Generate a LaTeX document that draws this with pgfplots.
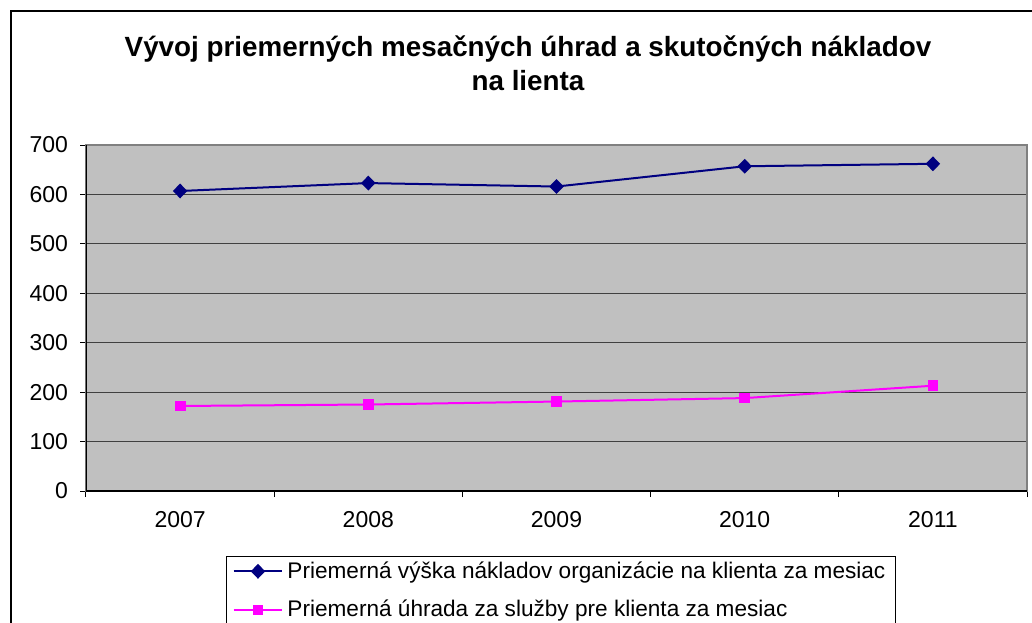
\documentclass[border=0pt]{standalone}
\usepackage{pgfplots}
\pgfplotsset{compat=1.18}
\usepackage{fontspec}
\setmainfont{Liberation Sans}
\definecolor{plotgray}{HTML}{C0C0C0}
\definecolor{navyline}{HTML}{000080}
\definecolor{magline}{HTML}{FF00FF}
\begin{document}
\begin{tikzpicture}
\begin{axis}[
  scale only axis, width=470.5pt, height=173pt,
  at={(0,0)}, anchor=south west,
  xmin=-0.5, xmax=4.5, ymin=0, ymax=700,
  xtick={0,1,2,3,4}, xticklabels={2007,2008,2009,2010,2011},
  minor xtick={-0.5,0.5,1.5,2.5,3.5,4.5},
  ytick={0,100,...,700},
  ymajorgrids,
  major grid style={black!75, line width=0.5pt},
  axis background/.style={fill=plotgray},
  axis line style={draw=black!50, line width=0.8pt},
  tick align=outside, tick pos=left,
  major tick length=3pt, minor tick length=3pt,
  every major x tick/.append style={draw=none},
  every tick/.append style={black, line width=0.5pt},
  /pgf/number format/assume math mode=true,
  ticklabel style={font=\fontsize{11.5}{13}\selectfont},
  xticklabel style={yshift=-3.5pt},
  yticklabel style={xshift=-2.5pt},
  legend style={at={(0.1488,-0.1879)}, anchor=north west, draw=black, line width=0.5pt,
    font=\fontsize{11.3}{13}\selectfont, row sep=5.5pt, inner xsep=3pt, inner ysep=0.5pt},
  legend cell align=left,
  legend image code/.code={\draw[mark repeat=2,mark phase=2] plot coordinates {(0cm,0cm) (0.43cm,0cm) (0.86cm,0cm)};},
]
\addplot[navyline, line width=1pt, mark=diamond*, mark size=3pt, mark options={xscale=1.3}] coordinates {
  (0,607) (1,623) (2,616) (3,657) (4,662)};
\addlegendentry{Priemerná výška nákladov organizácie na klienta za mesiac}
\addplot[magline, line width=1pt, mark=square*, mark size=2.2pt] coordinates {
  (0,172) (1,175) (2,181) (3,188) (4,213)};
\addlegendentry{Priemerná úhrada za služby pre klienta za mesiac}
\draw[black, line width=0.8pt] (rel axis cs:0,1) -- (rel axis cs:0,0) -- (rel axis cs:1,0);
\end{axis}
\node[font=\bfseries\fontsize{13.9}{17}\selectfont, align=center] at (221pt,214pt)
  {Vývoj priemerných mesačných úhrad a skutočných nákladov\\na lienta};
\draw[line width=1pt] (-37.5pt,-80pt) -- (-37.5pt,240pt) -- (490pt,240pt);
\pgfresetboundingbox
\useasboundingbox (-43pt,-65.5pt) rectangle (473pt,245.5pt);
\end{tikzpicture}
\end{document}
